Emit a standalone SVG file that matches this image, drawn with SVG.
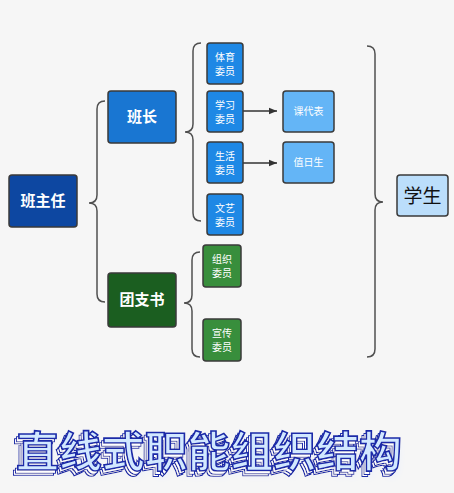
<svg xmlns="http://www.w3.org/2000/svg" width="454" height="493" viewBox="0 0 454 493">
<defs>
<style>
.box{stroke:#3a3a3a;stroke-width:1.5}
.br{fill:none;stroke:#505050;stroke-width:1.5}
.ln{fill:none;stroke:#333;stroke-width:1.3}
.t{font-family:"Noto Sans CJK SC","Noto Sans",sans-serif;fill:#fff;text-anchor:middle}
.big{font-size:15px;font-weight:bold}
.sm{font-size:10px}
.ttl{font-family:"Noto Sans CJK SC",sans-serif;font-size:42px;font-weight:bold}
</style>
<marker id="ah" viewBox="0 0 10 10" refX="10" refY="5" markerWidth="8" markerHeight="8" markerUnits="userSpaceOnUse" orient="auto"><path d="M0,1 L10,5 L0,9 z" fill="#333"/></marker>
<filter id="ext" x="-5%" y="-20%" width="110%" height="150%">
<feColorMatrix in="SourceGraphic" type="matrix" values="0 0 0 0 1 0 0 0 0 1 0 0 0 0 1 0 0 0 1 0" result="wh"/>
<feMorphology in="SourceAlpha" operator="erode" radius="0.9" result="er"/>
<feComposite in="wh" in2="er" operator="in" result="inner"/>
<feFlood flood-color="#1a2aa8" result="bf"/>
<feComposite in="bf" in2="SourceAlpha" operator="in" result="blue"/>
<feMerge result="layer"><feMergeNode in="blue"/><feMergeNode in="inner"/></feMerge>
<feOffset in="layer" dx="-2" dy="2.5" result="o1"/>
<feOffset in="layer" dx="-4" dy="5" result="o2"/>
<feOffset in="SourceAlpha" dx="0" dy="6" result="sa"/>
<feGaussianBlur in="sa" stdDeviation="3" result="bl"/>
<feColorMatrix in="bl" type="matrix" values="0 0 0 0 0.75 0 0 0 0 0.82 0 0 0 0 1 0 0 0 0.4 0" result="glow"/>
<feMerge><feMergeNode in="glow"/><feMergeNode in="o2"/><feMergeNode in="o1"/><feMergeNode in="SourceGraphic"/></feMerge>
</filter>
</defs>
<rect width="454" height="493" fill="#f6f6f6"/>
<g id="connectors">
<path class="br" d="M105 101 Q97 101 97 109 L97 195 Q97 203 89 203 Q97 203 97 211 L97 294 Q97 302 105 302"/>
<path class="br" d="M201 43 Q193 43 193 51 L193 124 Q193 132 185 132 Q193 132 193 140 L193 213 Q193 221 201 221"/>
<path class="br" d="M200 252 Q192 252 192 260 L192 295 Q192 303 184 303 Q192 303 192 311 L192 349 Q192 357 200 357"/>
<path class="br" d="M367 46 Q375 46 375 54 L375 194 Q375 202 383 202 Q375 202 375 210 L375 349 Q375 357 367 357"/>
<line class="ln" x1="243" y1="111" x2="277" y2="111" marker-end="url(#ah)"/>
<line class="ln" x1="243" y1="163" x2="277" y2="163" marker-end="url(#ah)"/>
</g>
<g id="banzhuren"><rect class="box" x="9" y="175" width="68" height="52" rx="3" fill="#0d47a1"/><text class="t big" x="43" y="206" font-weight="normal">班主任</text></g>
<g id="banzhang"><rect class="box" x="108" y="91" width="68" height="52" rx="3" fill="#1976d2"/><text class="t big" x="142" y="122">班长</text></g>
<g id="tuanzhishu"><rect class="box" x="108" y="273" width="68" height="54" rx="3" fill="#1b5e20"/><text class="t big" x="142" y="305">团支书</text></g>
<g id="tiyu"><rect class="box" x="207" y="43" width="36" height="41" rx="3" fill="#1e88e5"/><text class="t sm" x="225" y="61">体育</text><text class="t sm" x="225" y="75">委员</text></g>
<g id="xuexi"><rect class="box" x="207" y="91" width="36" height="41" rx="3" fill="#1e88e5"/><text class="t sm" x="225" y="109">学习</text><text class="t sm" x="225" y="123">委员</text></g>
<g id="shenghuo"><rect class="box" x="207" y="142" width="36" height="41" rx="3" fill="#1e88e5"/><text class="t sm" x="225" y="160">生活</text><text class="t sm" x="225" y="174">委员</text></g>
<g id="wenyi"><rect class="box" x="207" y="194" width="36" height="41" rx="3" fill="#1e88e5"/><text class="t sm" x="225" y="212">文艺</text><text class="t sm" x="225" y="226">委员</text></g>
<g id="kedaibiao"><rect class="box" x="283" y="91" width="51" height="41" rx="3" fill="#64b5f6"/><text class="t sm" x="308.5" y="115">课代表</text></g>
<g id="zhirisheng"><rect class="box" x="283" y="142" width="51" height="41" rx="3" fill="#64b5f6"/><text class="t sm" x="308.5" y="166">值日生</text></g>
<g id="zuzhi"><rect class="box" x="203" y="245" width="38" height="42" rx="3" fill="#388e3c"/><text class="t sm" x="222" y="263">组织</text><text class="t sm" x="222" y="277">委员</text></g>
<g id="xuanchuan"><rect class="box" x="203" y="319" width="38" height="42" rx="3" fill="#388e3c"/><text class="t sm" x="222" y="337">宣传</text><text class="t sm" x="222" y="351">委员</text></g>
<g id="xuesheng"><rect class="box" x="397" y="175" width="51" height="41" rx="3" fill="#bbdefb"/><text class="t" x="422.5" y="203" font-size="19" style="fill:#111">学生</text></g>
<g id="title">
<text class="ttl" x="16" y="467" textLength="386" lengthAdjust="spacingAndGlyphs" fill="#d2e8ff" stroke="#1a2aa8" stroke-width="1.6" filter="url(#ext)">直线式职能组织结构</text>
</g>
</svg>
